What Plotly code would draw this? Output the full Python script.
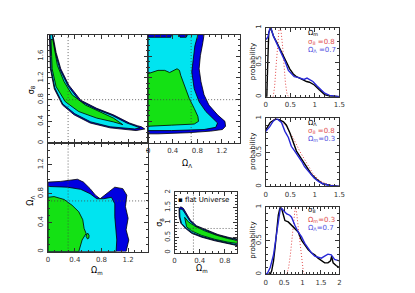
import plotly.graph_objects as go

W, H = 415, 293

# ---------------- fiducial values ----------------
OM_FID, OL_FID, S8_FID = 0.3, 0.7, 0.8

# ---------------- Panel A: sigma8 vs Omega_m (contours) ----------------
A_blue_om = [0.02, 0.034, 0.093, 0.216, 0.39, 0.63, 0.93, 1.17, 1.32, 1.45,
             1.40, 1.34, 1.22, 0.98, 0.73, 0.49, 0.31, 0.19, 0.12, 0.07]
A_blue_s8 = [2.0, 1.37, 1.0, 0.70, 0.52, 0.37, 0.28, 0.25, 0.23, 0.26,
             0.30, 0.32, 0.37, 0.52, 0.64, 0.79, 1.07, 1.37, 1.67, 2.0]
A_cyan_om = [0.03, 0.045, 0.10, 0.22, 0.40, 0.64, 0.93, 1.15, 1.30, 1.38,
             1.34, 1.28, 1.18, 0.96, 0.71, 0.47, 0.30, 0.18, 0.11, 0.06]
A_cyan_s8 = [2.0, 1.37, 1.02, 0.72, 0.54, 0.39, 0.30, 0.27, 0.26, 0.28,
             0.30, 0.32, 0.37, 0.51, 0.63, 0.78, 1.05, 1.35, 1.65, 2.0]
A_green_om = [0.044, 0.06, 0.12, 0.26, 0.46, 0.73, 0.98, 1.12,
              0.98, 0.78, 0.56, 0.36, 0.24, 0.14, 0.07]
A_green_s8 = [1.91, 1.37, 1.04, 0.76, 0.58, 0.46, 0.39, 0.34,
              0.46, 0.58, 0.70, 0.89, 1.13, 1.43, 1.91]

# ---------------- Panel B: sigma8 vs Omega_Lambda ----------------
B_blue_ol = [0, 0.91, 0.89, 0.85, 0.83, 0.86, 0.91, 0.99, 1.13, 1.25, 1.26, 1.21, 1.02, 0.65, 0.16, 0]
B_blue_s8 = [2.0, 2.0, 1.85, 1.61, 1.37, 1.13, 0.89, 0.70, 0.52, 0.40, 0.31, 0.25, 0.22, 0.19, 0.17, 0.17]
B_cyan_ol = [0, 0.37, 0.38, 0.50, 0.52, 0.62, 0.64, 0.81, 0.76, 0.73, 0.71, 0.75, 0.83, 0.94,
             1.05, 1.13, 1.10, 0.91, 0.38, 0]
B_cyan_s8 = [1.95, 1.95, 2.0, 2.0, 1.95, 1.95, 2.0, 2.0, 1.79, 1.55, 1.31, 1.0, 0.76, 0.58,
             0.46, 0.37, 0.29, 0.25, 0.23, 0.23]
B_green_ol = [0, 0.16, 0.27, 0.35, 0.47, 0.51, 0.53, 0.59, 0.67, 0.75, 0.81, 0.82, 0.75, 0.38, 0]
B_green_s8 = [1.28, 1.34, 1.34, 1.30, 1.37, 1.34, 1.25, 1.07, 0.82, 0.64, 0.49, 0.40, 0.35, 0.33, 0.31]

# ---------------- Panel C: Omega_Lambda vs Omega_m ----------------
C_blue_om = [0, 0.19, 0.44, 0.53, 0.63, 0.71, 0.78, 0.88, 1.0, 1.12, 1.18, 1.16, 1.20, 1.17, 1.21, 1.17, 0]
C_blue_ol = [0.96, 0.97, 1.0, 0.96, 0.87, 0.78, 0.73, 0.80, 0.89, 0.87, 0.78, 0.62, 0.46, 0.30, 0.16, 0, 0]
C_cyan_om = [0, 0.29, 0.49, 0.63, 0.73, 0.83, 0.95, 1.0, 1.0, 1.02, 1.03, 1.02, 0]
C_cyan_ol = [0.90, 0.89, 0.86, 0.80, 0.73, 0.73, 0.75, 0.66, 0.48, 0.30, 0.16, 0, 0]
C_green_om = [0, 0.09, 0.24, 0.36, 0.46, 0.52, 0.54, 0.57, 0.51, 0.48, 0.46, 0]
C_green_ol = [0.75, 0.76, 0.72, 0.64, 0.55, 0.44, 0.32, 0.25, 0.16, 0.07, 0, 0]
C_isle_om = [0.57, 0.58, 0.60, 0.615, 0.61, 0.59, 0.57]
C_isle_ol = [0.21, 0.245, 0.25, 0.22, 0.185, 0.175, 0.21]

# ---------------- Panel D: flat Universe, sigma8 vs Omega_m ----------------
D_blue_om = [0.07, 0.073, 0.10, 0.17, 0.27, 0.43, 0.64, 0.84, 1.0,
             1.0, 0.87, 0.69, 0.51, 0.35, 0.25, 0.18, 0.14, 0.10]
D_blue_s8 = [1.47, 1.19, 0.97, 0.81, 0.64, 0.51, 0.39, 0.29, 0.23,
             0.45, 0.50, 0.60, 0.74, 0.89, 1.08, 1.30, 1.47, 1.52]
D_cyan_om = [0.08, 0.085, 0.11, 0.18, 0.28, 0.44, 0.65, 0.85, 1.0,
             1.0, 0.86, 0.68, 0.50, 0.34, 0.24, 0.17, 0.13, 0.10]
D_cyan_s8 = [1.42, 1.18, 0.97, 0.82, 0.66, 0.53, 0.41, 0.31, 0.25,
             0.43, 0.48, 0.58, 0.72, 0.87, 1.06, 1.27, 1.42, 1.45]
D_green_om = [0.16, 0.22, 0.32, 0.48, 0.66, 0.84, 1.0, 1.0, 0.84, 0.64, 0.43, 0.27, 0.19, 0.17]
D_green_s8 = [1.17, 1.02, 0.88, 0.72, 0.58, 0.47, 0.40, 0.30, 0.35, 0.44, 0.57, 0.72, 0.86, 1.06]

# ---------------- Panel E: P(Omega_m) ----------------
E_black_x = [0.0, 0.02, 0.04, 0.06, 0.10, 0.155, 0.22, 0.29, 0.36, 0.42, 0.49, 0.56, 0.625, 0.69,
             0.76, 0.83, 0.89, 0.99, 1.09, 1.2, 1.30, 1.5]
E_black_y = [0.0, 0.0, 0.5, 0.93, 1.0, 0.88, 0.79, 0.69, 0.60, 0.50, 0.40, 0.33, 0.29, 0.27,
             0.24, 0.22, 0.21, 0.17, 0.10, 0.03, 0.01, 0.0]
E_blue_x = [0, 0.04, 0.08, 0.10, 0.16, 0.22, 0.28, 0.34, 0.40, 0.46, 0.52, 0.58, 0.65, 0.72,
            0.78, 0.84, 0.90, 0.96, 1.04, 1.12, 1.20, 1.30, 1.40, 1.5]
E_blue_y = [0.83, 0.86, 0.98, 1.0, 0.87, 0.78, 0.68, 0.60, 0.50, 0.38, 0.33, 0.29, 0.28, 0.26,
            0.25, 0.27, 0.25, 0.22, 0.16, 0.10, 0.05, 0.02, 0.01, 0.0]
E_red_x = [0.15, 0.18, 0.21, 0.24, 0.27, 0.29, 0.31, 0.34, 0.37, 0.40, 0.43, 0.46]
E_red_y = [0.0, 0.15, 0.45, 0.80, 0.98, 1.0, 0.95, 0.75, 0.45, 0.20, 0.05, 0.0]

# ---------------- Panel F: P(Omega_Lambda) ----------------
F_black_x = [0, 0.09, 0.19, 0.26, 0.36, 0.42, 0.49, 0.56, 0.625, 0.73, 0.83, 0.93, 1.03, 1.16, 1.33, 1.5]
F_black_y = [0.83, 0.94, 0.985, 0.985, 0.95, 0.90, 0.79, 0.66, 0.52, 0.40, 0.28, 0.18, 0.11, 0.04, 0.015, 0.0]
F_blue_x = [0, 0.08, 0.15, 0.22, 0.32, 0.39, 0.46, 0.52, 0.59, 0.66, 0.73, 0.79, 0.89, 0.99,
            1.08, 1.16, 1.3, 1.5]
F_blue_y = [0.81, 0.88, 0.96, 1.0, 0.94, 0.81, 0.72, 0.59, 0.52, 0.45, 0.37, 0.29, 0.20, 0.12,
            0.07, 0.04, 0.015, 0.0]
F_red_x = [0, 0.08, 0.18, 0.30, 0.42, 0.56, 0.69, 0.83, 0.96, 1.09, 1.26, 1.5]
F_red_y = [0.85, 0.93, 1.0, 0.96, 0.88, 0.71, 0.52, 0.34, 0.19, 0.09, 0.03, 0.0]

# ---------------- Panel G: P(sigma8) ----------------
G_black_x = [0, 0.12, 0.16, 0.21, 0.25, 0.30, 0.34, 0.39, 0.43, 0.48, 0.52, 0.61, 0.70, 0.79,
             0.88, 0.97, 1.06, 1.15, 1.24, 1.33, 1.42, 1.51, 1.60, 1.69, 1.76, 1.79, 1.83, 1.91, 2.0]
G_black_y = [0, 0, 0.05, 0.20, 0.39, 0.63, 0.88, 1.0, 0.98, 0.88, 0.80, 0.78, 0.73, 0.68,
             0.63, 0.51, 0.44, 0.37, 0.32, 0.29, 0.24, 0.20, 0.17, 0.17, 0.20, 0.27, 0.17, 0.13, 0.10]
G_blue_x = [0, 0.05, 0.12, 0.21, 0.30, 0.36, 0.40, 0.48, 0.57, 0.65, 0.70, 0.79, 0.88, 0.97,
            1.06, 1.15, 1.24, 1.33, 1.42, 1.51, 1.60, 1.69, 1.78, 1.87, 2.0]
G_blue_y = [0, 0.02, 0.10, 0.29, 0.63, 0.90, 1.0, 0.95, 0.90, 0.88, 0.85, 0.73, 0.63, 0.56,
            0.46, 0.39, 0.32, 0.27, 0.25, 0.24, 0.27, 0.30, 0.29, 0.22, 0.20]
G_red_x = [0.57, 0.62, 0.67, 0.72, 0.77, 0.80, 0.83, 0.88, 0.93, 0.98, 1.02, 1.06]
G_red_y = [0, 0.1, 0.3, 0.6, 0.9, 1.0, 0.95, 0.7, 0.4, 0.15, 0.04, 0]

# ---------------- styles ----------------
C_BLUE = "rgb(0,0,225)"
C_CYAN = "rgb(0,228,240)"
C_GREEN = "rgb(20,225,20)"
L_BLACK = "black"
L_BLUE = "rgb(40,40,215)"
L_RED = "rgb(225,70,70)"
T_RED = "rgb(225,80,80)"
T_BLUE = "rgb(80,80,225)"
FONT = "DejaVu Sans"
AX_COLOR = "#333"
TICK_SIZE = 7

fig = go.Figure()


def dom_x(p0, p1):
    return [p0 / W, p1 / W]


def dom_y(top, bot):
    return [1 - bot / H, 1 - top / H]


def poly(x, y, color, ax):
    fig.add_trace(go.Scatter(x=x + x[:1], y=y + y[:1], mode="lines", fill="toself",
                             fillcolor=color, line=dict(color="black", width=0.8),
                             xaxis=ax[0], yaxis=ax[1], hoverinfo="skip", showlegend=False))


def curve(x, y, color, ax, dash="solid", width=1.4):
    fig.add_trace(go.Scatter(x=x, y=y, mode="lines", line=dict(color=color, width=width, dash=dash),
                             xaxis=ax[0], yaxis=ax[1], hoverinfo="skip", showlegend=False))


def dotted(ax, x=None, y=None):
    xr, yr = ax[2], ax[3]
    style = dict(color="#444", width=0.8, dash="1px,2px")
    if x is not None:
        fig.add_trace(go.Scatter(x=[x, x], y=yr, mode="lines", line=style,
                                 xaxis=ax[0], yaxis=ax[1], hoverinfo="skip", showlegend=False))
    if y is not None:
        fig.add_trace(go.Scatter(x=xr, y=[y, y], mode="lines", line=style,
                                 xaxis=ax[0], yaxis=ax[1], hoverinfo="skip", showlegend=False))


A = ("x", "y", [0, 1.5], [0, 2.0])
B = ("x2", "y2", [0, 1.5], [0, 2.0])
C = ("x3", "y3", [0, 1.5], [0, 1.5])
D = ("x4", "y4", [0, 1.0], [0, 2.0])
E = ("x5", "y5", [0, 1.5], [0, 1.0])
F = ("x6", "y6", [0, 1.5], [0, 1.0])
G = ("x7", "y7", [0, 2.0], [0, 1.0])

# contours
poly(A_blue_om, A_blue_s8, C_BLUE, A)
poly(A_cyan_om, A_cyan_s8, C_CYAN, A)
poly(A_green_om, A_green_s8, C_GREEN, A)
poly(B_blue_ol, B_blue_s8, C_BLUE, B)
poly(B_cyan_ol, B_cyan_s8, C_CYAN, B)
poly(B_green_ol, B_green_s8, C_GREEN, B)
poly(C_blue_om, C_blue_ol, C_BLUE, C)
poly(C_cyan_om, C_cyan_ol, C_CYAN, C)
poly(C_green_om, C_green_ol, C_GREEN, C)
poly(C_isle_om, C_isle_ol, C_GREEN, C)
poly(D_blue_om, D_blue_s8, C_BLUE, D)
poly(D_cyan_om, D_cyan_s8, C_CYAN, D)
poly(D_green_om, D_green_s8, C_GREEN, D)

# fiducial dotted lines
dotted(A, x=OM_FID, y=S8_FID)
dotted(B, x=OL_FID, y=S8_FID)
dotted(C, x=OM_FID, y=OL_FID)
dotted(D, x=OM_FID, y=S8_FID)

# marginals
curve(E_red_x, E_red_y, L_RED, E, dash="1px,2px", width=1)
curve(E_black_x, E_black_y, L_BLACK, E)
curve(E_blue_x, E_blue_y, L_BLUE, E)
curve(F_red_x, F_red_y, L_RED, F, dash="1px,2px", width=1)
curve(F_black_x, F_black_y, L_BLACK, F)
curve(F_blue_x, F_blue_y, L_BLUE, F)
curve(G_red_x, G_red_y, L_RED, G, dash="1px,2px", width=1)
curve(G_black_x, G_black_y, L_BLACK, G)
curve(G_blue_x, G_blue_y, L_BLUE, G)


def axis(domain, rng, anchor, tickvals=None, angle=0, minor=0.1):
    d = dict(domain=domain, range=rng, anchor=anchor, showgrid=False, zeroline=False,
             showline=True, linecolor=AX_COLOR, linewidth=1, mirror="allticks",
             ticks="inside", ticklen=4, tickcolor=AX_COLOR, tickwidth=1,
             minor=dict(ticks="inside", ticklen=2, dtick=minor, tickcolor=AX_COLOR, showgrid=False),
             tickfont=dict(family=FONT, size=TICK_SIZE, color=AX_COLOR),
             tickangle=angle, fixedrange=True, ticklabelstandoff=1)
    if tickvals is None:
        d["showticklabels"] = False
        d["dtick"] = 0.4
        d["tick0"] = 0
    else:
        d["showticklabels"] = True
        d["tickmode"] = "array"
        d["tickvals"] = tickvals
        d["ticktext"] = [("%g" % v) for v in tickvals]
    return d


layout = dict(width=W, height=H, margin=dict(l=0, r=0, t=0, b=0),
              paper_bgcolor="white", plot_bgcolor="white", showlegend=False)

layout["xaxis"] = axis(dom_x(47, 149), [0, 1.5], "y")
layout["yaxis"] = axis(dom_y(32, 142), [0, 2.0], "x", tickvals=[0, 0.4, 0.8, 1.2, 1.6], angle=-90)
layout["xaxis2"] = axis(dom_x(149, 243), [0, 1.5], "y2", tickvals=[0, 0.4, 0.8, 1.2])
layout["yaxis2"] = axis(dom_y(32, 142), [0, 2.0], "x2")
layout["xaxis3"] = axis(dom_x(47, 149), [0, 1.5], "y3", tickvals=[0, 0.4, 0.8, 1.2])
layout["yaxis3"] = axis(dom_y(142, 252), [0, 1.5], "x3", tickvals=[0, 0.4, 0.8, 1.2], angle=-90)
layout["xaxis4"] = axis(dom_x(176, 240), [0, 1.0], "y4", tickvals=[0, 0.4, 0.8])
layout["yaxis4"] = axis(dom_y(192, 253), [0, 2.0], "x4", tickvals=[0, 0.5, 1, 1.5, 2], angle=-90)

for i, (top, bot, xr, xt) in zip([5, 6, 7], [(25, 95, [0, 1.5], [0, 0.5, 1, 1.5]),
                                            (117, 186, [0, 1.5], [0, 0.5, 1, 1.5]),
                                            (207, 275, [0, 2.0], [0, 0.5, 1, 1.5, 2])]):
    layout["xaxis%d" % i] = axis(dom_x(269, 344), xr, "y%d" % i, tickvals=xt)
    layout["yaxis%d" % i] = axis(dom_y(top, bot), [0, 1.0], "x%d" % i, tickvals=[0, 0.5, 1], angle=-90)

fig.update_layout(**layout)


def note(text, px, py, color="black", size=8, angle=0, xanchor="center"):
    fig.add_annotation(text=text, x=px / W, y=1 - py / H, xref="paper", yref="paper",
                       showarrow=False, textangle=angle, xanchor=xanchor, yanchor="middle",
                       font=dict(family=FONT, size=size, color=color))


# axis titles
note("σ<sub>8</sub>", 30, 88, angle=-90)
note("Ω<sub>Λ</sub>", 30, 200, angle=-90)
note("Ω<sub>m</sub>", 97, 272)
note("Ω<sub>Λ</sub>", 189, 163)
note("σ<sub>8</sub>", 161, 222, angle=-90)
note("Ω<sub>m</sub>", 204, 270)
note("▪ flat Universe", 177, 200, size=7, xanchor="left")
for yc in (60, 151, 241):
    note("probability", 256, yc, size=7, angle=-90)

# marginal labels
note("Ω<sub>m</sub>", 310, 30, size=7, xanchor="left")
note("σ<sub>8</sub> =0.8", 310, 40, color=T_RED, size=7, xanchor="left")
note("Ω<sub>Λ</sub> =0.7", 310, 48, color=T_BLUE, size=7, xanchor="left")
note("Ω<sub>Λ</sub>", 310, 122, size=7, xanchor="left")
note("σ<sub>8</sub> =0.8", 310, 130, color=T_RED, size=7, xanchor="left")
note("Ω<sub>m</sub>=0.3", 310, 138, color=T_BLUE, size=7, xanchor="left")
note("σ<sub>8</sub>", 310, 210, size=7, xanchor="left")
note("Ω<sub>m</sub>=0.3", 310, 220, color=T_RED, size=7, xanchor="left")
note("Ω<sub>Λ</sub>=0.7", 310, 228, color=T_BLUE, size=7, xanchor="left")

fig.write_html("out.html", config={"staticPlot": True},
               post_script="document.body.style.margin='0';")
